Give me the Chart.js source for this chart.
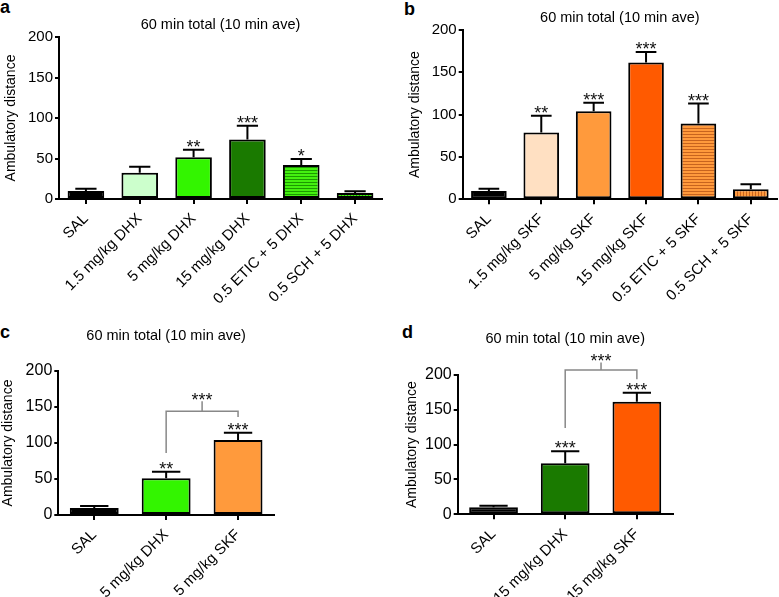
<!DOCTYPE html>
<html>
<head>
<meta charset="utf-8">
<script src="https://cdn.jsdelivr.net/npm/chart.js@4.4.1/dist/chart.umd.min.js"></script>
<style>
body { margin: 0; background: #fff; width: 779px; height: 597px; position: relative; overflow: hidden; font-family: "Liberation Sans", Arial, sans-serif; }
canvas { position: absolute; }
.tag { position: absolute; font-weight: bold; font-size: 18px; line-height: 18px; color: #000; }
</style>
</head>
<body>
<div class="tag" style="left:0px;top:-2px">a</div>
<div class="tag" style="left:404px;top:0px">b</div>
<div class="tag" style="left:0px;top:323px">c</div>
<div class="tag" style="left:402px;top:323px">d</div>
<canvas id="pc" width="390" height="297" style="left:0;top:300px"></canvas>
<canvas id="pd" width="389" height="297" style="left:390px;top:300px"></canvas>
<canvas id="pa" width="390" height="312" style="left:0;top:0"></canvas>
<canvas id="pb" width="389" height="312" style="left:390px;top:0"></canvas>
<script>
const yTicks = [0, 50, 100, 150, 200]

const labelsA = ['SAL', '1.5 mg/kg DHX', '5 mg/kg DHX', '15 mg/kg DHX', '0.5 ETIC + 5 DHX', '0.5 SCH + 5 DHX']
const meanA = [10, 32.5, 51.5, 73.5, 42, 7.5]
const semA = [2.7, 7.3, 9.2, 16.8, 7.5, 2.2]
const starsA = ['', '', '**', '***', '*', '']

const labelsB = ['SAL', '1.5 mg/kg SKF', '5 mg/kg SKF', '15 mg/kg SKF', '0.5 ETIC + 5 SKF', '0.5 SCH + 5 SKF']
const meanB = [9.8, 79, 104, 161.5, 89.5, 11.8]
const semB = [2.8, 19.8, 10.2, 12.6, 23.6, 5.9]
const starsB = ['', '**', '***', '***', '***', '']

const labelsC = ['SAL', '5 mg/kg DHX', '5 mg/kg SKF']
const meanC = [9.7, 51, 104.2]
const semC = [2.8, 9.2, 10.2]
const starsC = ['', '**', '***']

const labelsD = ['SAL', '15 mg/kg DHX', '15 mg/kg SKF']
const meanD = [10, 73.2, 161.7]
const semD = [2.4, 17.2, 12.9]
const starsD = ['', '***', '***']

// comparison brackets (in data units): from bar, to bar, bar level, leg ends, centre tick top
const bracketC = { from: 1, to: 2, level: 144, leftEnd: 86, rightEnd: 136, peak: 158, label: '***' }
const bracketD = { from: 1, to: 2, level: 207, leftEnd: 124, rightEnd: 194, peak: 218, label: '***' }

const FAM = '"Liberation Sans", Arial, Helvetica, sans-serif'

function hatch(base, line, vertical) {
  const c = document.createElement('canvas')
  c.width = 3; c.height = 3
  const g = c.getContext('2d')
  g.fillStyle = base
  g.fillRect(0, 0, 3, 3)
  g.fillStyle = line
  if (vertical) g.fillRect(2, 0, 1, 3)
  else g.fillRect(0, 2, 3, 1)
  return g.createPattern(c, 'repeat')
}

const green = '#33f500', dkGreen = '#1a7a00', ltGreen = '#ccffcc'
const orange = '#ff9a3c', dkOrange = '#ff5a00', peach = '#ffe0c2'
const colorsA = ['#000', ltGreen, green, dkGreen, hatch('#44f010', '#1c9a00', false), hatch('#44f010', '#1c9a00', true)]
const colorsB = ['#000', peach, orange, dkOrange, hatch('#ff9a3c', '#c8641e', false), hatch('#ff9a3c', '#c8641e', true)]
const colorsC = ['#000', green, orange]
const colorsD = ['#000', dkGreen, dkOrange]

function overlay(sem, stars, bracket) {
  return {
    id: 'overlay',
    afterDatasetsDraw(chart) {
      const { ctx, scales: { x, y } } = chart
      const vals = chart.data.datasets[0].data
      const bars = chart.getDatasetMeta(0).data
      ctx.save()
      ctx.strokeStyle = '#000'
      ctx.lineWidth = 2
      ctx.fillStyle = '#111'
      ctx.font = '18px ' + FAM
      ctx.textAlign = 'center'
      ctx.textBaseline = 'alphabetic'
      bars.forEach((bar, i) => {
        const top = y.getPixelForValue(vals[i] + sem[i])
        const base = y.getPixelForValue(vals[i])
        const half = bar.width * 0.29
        ctx.beginPath()
        ctx.moveTo(bar.x, base)
        ctx.lineTo(bar.x, top)
        ctx.moveTo(bar.x - half, top)
        ctx.lineTo(bar.x + half, top)
        ctx.stroke()
        if (stars[i]) ctx.fillText(stars[i], bar.x, top + 3)
      })
      if (bracket) {
        const x1 = x.getPixelForValue(bracket.from)
        const x2 = x.getPixelForValue(bracket.to)
        const yl = y.getPixelForValue(bracket.level)
        const mid = (x1 + x2) / 2
        const pk = y.getPixelForValue(bracket.peak)
        ctx.strokeStyle = '#888'
        ctx.lineWidth = 1.5
        ctx.beginPath()
        ctx.moveTo(x1, y.getPixelForValue(bracket.leftEnd))
        ctx.lineTo(x1, yl)
        ctx.lineTo(x2, yl)
        ctx.lineTo(x2, y.getPixelForValue(bracket.rightEnd))
        ctx.moveTo(mid, yl)
        ctx.lineTo(mid, pk)
        ctx.stroke()
        ctx.fillText(bracket.label, mid, pk + 4.5)
      }
      ctx.restore()
    }
  }
}

function build(id, labels, means, colors, sem, stars, geo, bracket) {
  new Chart(document.getElementById(id), {
    type: 'bar',
    data: {
      labels,
      datasets: [{
        data: means,
        backgroundColor: colors,
        borderColor: '#000',
        borderWidth: 2,
        borderSkipped: false,
        barPercentage: 0.68,
        categoryPercentage: 1
      }]
    },
    options: {
      responsive: false,
      animation: false,
      layout: { padding: { left: 0, right: geo.padR, top: 0, bottom: 0 } },
      plugins: {
        legend: { display: false },
        tooltip: { enabled: false },
        title: {
          display: true,
          text: '60 min total (10 min ave)',
          color: '#000',
          fullSize: false,
          font: { family: FAM, size: 14.5, weight: 'normal', lineHeight: 1.2 },
          padding: { top: geo.tTop, bottom: geo.tBot }
        }
      },
      scales: {
        x: {
          grid: { offset: false, drawOnChartArea: false, color: '#000', lineWidth: 2, tickLength: 5 },
          border: { color: '#000', width: 2 },
          ticks: { color: '#000', font: { family: FAM, size: 15 }, minRotation: 45, maxRotation: 45, autoSkip: false, padding: 6 },
          afterFit: s => { s.height = geo.xH }
        },
        y: {
          min: 0,
          max: 200,
          afterBuildTicks: s => { s.ticks = yTicks.map(v => ({ value: v })) },
          grid: { drawOnChartArea: false, color: '#000', lineWidth: 2, tickLength: 4 },
          border: { color: '#000', width: 2 },
          ticks: { color: '#000', font: { family: FAM, size: geo.tick }, padding: 2 },
          title: { display: true, text: 'Ambulatory distance', color: '#000', font: { family: FAM, size: 14, lineHeight: 1.2 }, padding: { top: geo.yTitle, bottom: 0 } },
          afterFit: s => { s.width = geo.L }
        }
      }
    },
    plugins: [overlay(sem, stars, bracket)]
  })
}

build('pa', labelsA, meanA, colorsA, semA, starsA, { L: 59, padR: 8, tTop: 16.3, tBot: 3.3, xH: 113, yTitle: 2.6, tick: 15 })
build('pb', labelsB, meanB, colorsB, semB, starsB, { L: 72.7, padR: 2, tTop: 8.8, tBot: 3.8, xH: 112.7, yTitle: 16.6, tick: 15 })
build('pc', labelsC, meanC, colorsC, semC, starsC, { L: 58.3, padR: 116, tTop: 27.3, tBot: 26.3, xH: 82, yTitle: 0, tick: 16 }, bracketC)
build('pd', labelsD, meanD, colorsD, semD, starsD, { L: 67.7, padR: 106.3, tTop: 30.3, tBot: 27.3, xH: 82.7, yTitle: 14.1, tick: 16 }, bracketD)
</script>
</body>
</html>
